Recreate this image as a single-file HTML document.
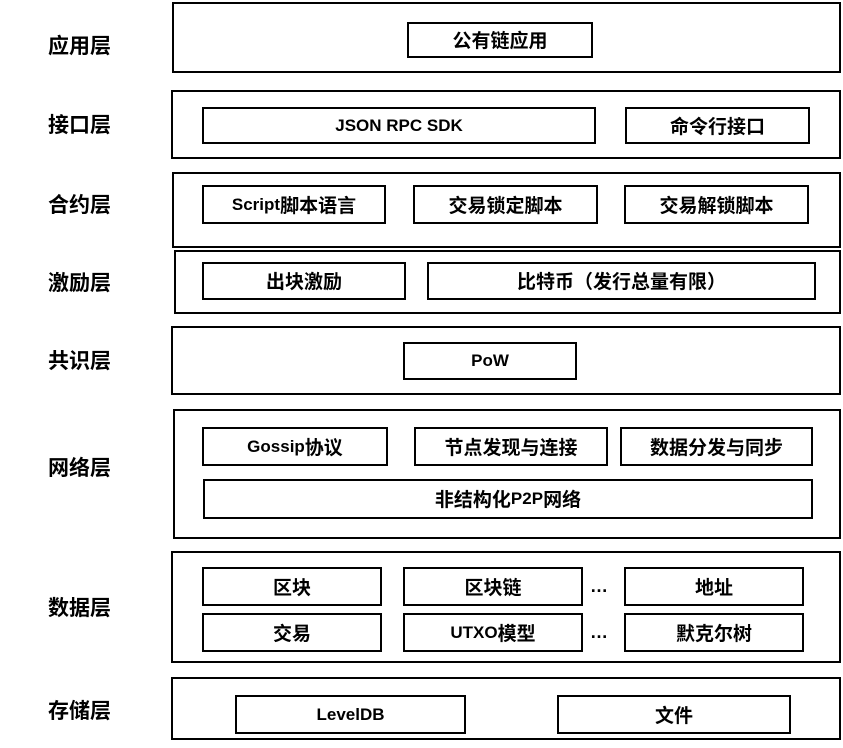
<!DOCTYPE html>
<html><head><meta charset="utf-8"><style>
body{margin:0;width:843px;height:748px;background:#fff;position:relative;overflow:hidden;font-family:"Liberation Sans","Noto Sans CJK SC",sans-serif;font-weight:bold;color:#000}
.o,.b{position:absolute;box-sizing:border-box;border:2px solid #000}
.b{display:flex;align-items:center;justify-content:center;font-size:19px;line-height:22px;font-family:"Noto Sans CJK SC",sans-serif}
.s{font-size:17px;font-family:"Liberation Sans","Noto Sans CJK SC",sans-serif}
.l{position:absolute;left:48px;width:90px;font-size:21px;line-height:26px;font-family:"Noto Sans CJK SC",sans-serif}
.d{position:absolute;font-size:18px}
</style></head><body>
<div class="l" style="top:32px">应用层</div>
<div class="o" style="left:172px;top:2px;width:669px;height:71px"></div>
<div class="b" style="left:407px;top:22px;width:186px;height:36px">公有链应用</div>

<div class="l" style="top:111px">接口层</div>
<div class="o" style="left:171px;top:90px;width:670px;height:69px"></div>
<div class="b s" style="left:202px;top:107px;width:394px;height:37px">JSON RPC SDK</div>
<div class="b" style="left:625px;top:107px;width:185px;height:37px">命令行接口</div>

<div class="l" style="top:191px">合约层</div>
<div class="o" style="left:172px;top:172px;width:669px;height:76px"></div>
<div class="b" style="left:202px;top:185px;width:184px;height:39px"><span class="s">Script</span>脚本语言</div>
<div class="b" style="left:413px;top:185px;width:185px;height:39px">交易锁定脚本</div>
<div class="b" style="left:624px;top:185px;width:185px;height:39px">交易解锁脚本</div>

<div class="l" style="top:269px">激励层</div>
<div class="o" style="left:174px;top:250px;width:667px;height:64px"></div>
<div class="b" style="left:202px;top:262px;width:204px;height:38px">出块激励</div>
<div class="b" style="left:427px;top:262px;width:389px;height:38px">比特币（发行总量有限）</div>

<div class="l" style="top:347px">共识层</div>
<div class="o" style="left:171px;top:326px;width:670px;height:69px"></div>
<div class="b s" style="left:403px;top:342px;width:174px;height:38px">PoW</div>

<div class="l" style="top:454px">网络层</div>
<div class="o" style="left:173px;top:409px;width:668px;height:130px"></div>
<div class="b" style="left:202px;top:427px;width:186px;height:39px"><span class="s">Gossip</span>协议</div>
<div class="b" style="left:414px;top:427px;width:194px;height:39px">节点发现与连接</div>
<div class="b" style="left:620px;top:427px;width:193px;height:39px">数据分发与同步</div>
<div class="b" style="left:203px;top:479px;width:610px;height:40px">非结构化<span class="s">P2P</span>网络</div>

<div class="l" style="top:594px">数据层</div>
<div class="o" style="left:171px;top:551px;width:670px;height:112px"></div>
<div class="b" style="left:202px;top:567px;width:180px;height:39px">区块</div>
<div class="b" style="left:403px;top:567px;width:180px;height:39px">区块链</div>
<div class="d" style="left:590px;top:576px">…</div>
<div class="b" style="left:624px;top:567px;width:180px;height:39px">地址</div>
<div class="b" style="left:202px;top:613px;width:180px;height:39px">交易</div>
<div class="b" style="left:403px;top:613px;width:180px;height:39px"><span class="s">UTXO</span>模型</div>
<div class="d" style="left:590px;top:622px">…</div>
<div class="b" style="left:624px;top:613px;width:180px;height:39px">默克尔树</div>

<div class="l" style="top:697px">存储层</div>
<div class="o" style="left:171px;top:677px;width:670px;height:63px"></div>
<div class="b s" style="left:235px;top:695px;width:231px;height:39px">LevelDB</div>
<div class="b" style="left:557px;top:695px;width:234px;height:39px">文件</div>
</body></html>
